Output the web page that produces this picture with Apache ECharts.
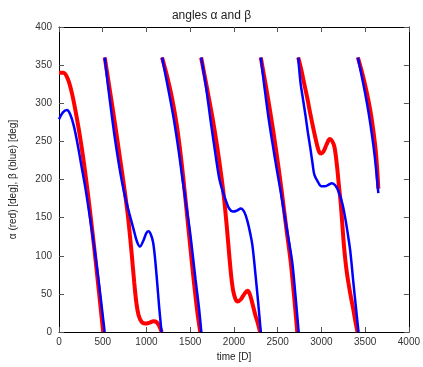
<!DOCTYPE html>
<html>
<head>
<meta charset="utf-8">
<script src="https://cdn.jsdelivr.net/npm/echarts@6/dist/echarts.min.js"></script>
<style>
html,body{margin:0;padding:0;background:#fff;}
#chart{width:423px;height:367px;}
</style>
</head>
<body>
<div id="chart"></div>
<script>
// alpha (red): time [D] and angle [deg]; null marks a wrap 0 -> 360
const alphaTime = [0,50,100,150,200,250,300,350,400,450,505, null,
  523,580,640,700,750,790,830,860,885,910,945,985,1030,1080,1115,1145,1174, null,
  1178,1230,1290,1340,1380,1420,1460,1500,1540,1580,1615, null,
  1625,1690,1758,1810,1860,1890,1920,1947,1970,1990,2015,2042,2080,2120,2155,2180,2212,2245,2272,2299, null,
  2307,2360,2420,2480,2540,2600,2648,2690,2724, null,
  2735,2770,2799,2840,2875,2915,2951,2975,2996,3020,3060,3095,3125,3150,3178,3200,3220,3240,3260,3285,3311,3340,3367,3390,3413, null,
  3417,3470,3519,3560,3595,3625,3651];
const alphaDeg = [340,340,332,312,283,249,209,163,113,60,0, null,
  360,318,273,226,186,150,104,65,38,22,13,11,12,14,13,8,0, null,
  360,338,308,276,243,203,158,113,68,28,0, null,
  360,321,279,242,201,172,136,100,72,55,44,40,43,50,54,50,37,22,12,0, null,
  360,326,285,240,190,135,93,44,0, null,
  360,344,328,306,285,263,245,236,234,236,246,253,250,242,218,192,170,140,110,83,63,44,28,13,0, null,
  360,338,314,290,263,233,188];
// beta (blue)
const betaTime = [0,45,90,130,170,210,250,300,350,400,450,522, null,
  523,560,600,640,682,720,760,805,850,890,925,965,1000,1023,1050,1075,1095,1120,1145,1172, null,
  1178,1250,1314,1370,1409,1450,1496,1530,1561,1600,1627, null,
  1625,1680,1731,1790,1833,1870,1909,1945,1985,2030,2080,2120,2155,2185,2212,2250,2280,2307, null,
  2307,2350,2394,2440,2490,2530,2580,2630,2667,2700,2740, null,
  2735,2761,2790,2818,2845,2875,2900,2920,2960,3000,3040,3080,3120,3160,3200,3240,3273,3300,3330,3367,3395,3424, null,
  3417,3460,3500,3540,3576,3610,3651];
const betaDeg = [279,288,291,285,270,248,222,190,153,114,70,0, null,
  360,323,287,253,222,197,175,155,136,119,112,120,130,132,128,118,100,68,33,0, null,
  360,318,278,236,203,170,133,100,69,32,0, null,
  360,322,279,232,201,185,172,162,158,159,162,157,145,130,113,71,35,0, null,
  360,320,282,248,213,187,152,118,91,52,0, null,
  360,327,305,284,262,240,220,206,197,191,191,193,195,192,183,168,149,130,106,63,32,0, null,
  360,336,313,287,260,230,182];
const xTicks = [0,500,1000,1500,2000,2500,3000,3500,4000];
const yTicks = [0,50,100,150,200,250,300,350,400];

function segments(ts, vs) {
  const out = []; let cur = [];
  for (let i = 0; i < ts.length; i++) {
    if (ts[i] === null) { if (cur.length) out.push(cur); cur = []; }
    else cur.push([ts[i], vs[i]]);
  }
  if (cur.length) out.push(cur);
  return out;
}
const series = [];
segments(alphaTime, alphaDeg).forEach(s => series.push({
  type:'line', data:s, smooth:0.35, symbol:'none', z:2,
  lineStyle:{color:'#ff0000', width:4}, itemStyle:{color:'#ff0000'}
}));
segments(betaTime, betaDeg).forEach(s => series.push({
  type:'line', data:s, smooth:0.35, symbol:'none', z:3,
  lineStyle:{color:'#0000ff', width:2.5}, itemStyle:{color:'#0000ff'}
}));

const font = 'Liberation Sans, Arial, sans-serif';
const xStep = xTicks[1]-xTicks[0], yStep = yTicks[1]-yTicks[0];
const plain = v => String(v);
const baseX = {type:'value', min:xTicks[0], max:xTicks[xTicks.length-1], interval:xStep,
  splitLine:{show:false},
  axisLine:{onZero:false, lineStyle:{color:'#000', width:1}},
  axisTick:{inside:true, length:5, lineStyle:{color:'#555'}}};
const baseY = {type:'value', min:yTicks[0], max:yTicks[yTicks.length-1], interval:yStep,
  splitLine:{show:false},
  axisLine:{onZero:false, lineStyle:{color:'#000', width:1}},
  axisTick:{inside:true, length:5, lineStyle:{color:'#555'}}};

const chart = echarts.init(document.getElementById('chart'), null, {renderer:'canvas'});
chart.setOption({
  animation:false,
  backgroundColor:'#fff',
  title:{text:'angles α and β', left:'center', top:5,
    textStyle:{fontSize:12, fontWeight:'normal', color:'#222', fontFamily:font}},
  grid:{left:57, right:14, top:27, bottom:32, containLabel:false},
  xAxis:[
    Object.assign({}, baseX, {position:'bottom', name:'time [D]', nameLocation:'middle', nameGap:20,
      nameTextStyle:{fontSize:10, color:'#222', fontFamily:font},
      axisLabel:{fontSize:10, color:'#333', margin:5, fontFamily:font, formatter:plain}}),
    Object.assign({}, baseX, {position:'top', axisLabel:{show:false}})
  ],
  yAxis:[
    Object.assign({}, baseY, {position:'left', name:'α (red) [deg], β (blue) [deg]', nameLocation:'middle', nameGap:41,
      nameTextStyle:{fontSize:10, color:'#222', fontFamily:font},
      axisLabel:{fontSize:10, color:'#333', margin:7, fontFamily:font, formatter:plain}}),
    Object.assign({}, baseY, {position:'right', axisLabel:{show:false}})
  ],
  series: series
});
</script>
</body>
</html>
